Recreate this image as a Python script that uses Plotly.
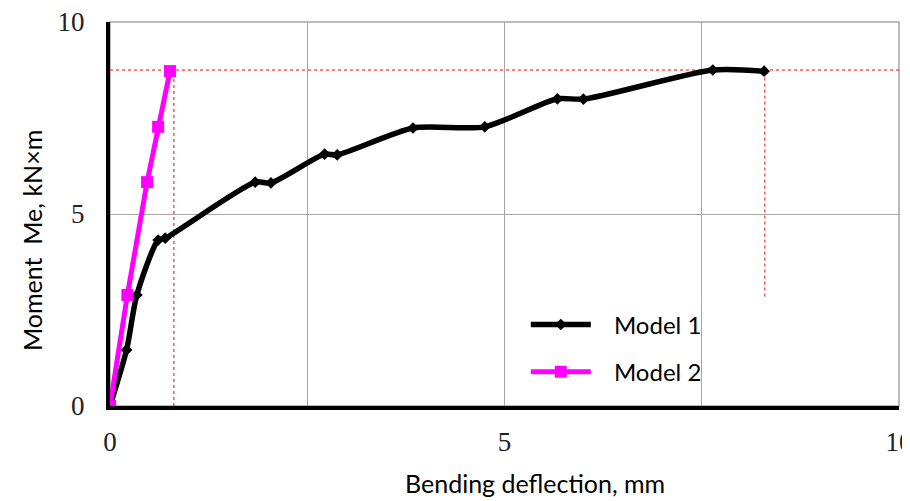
import plotly.graph_objects as go

# Data
m1_x = [0, 0.21, 0.34, 0.61, 0.70, 1.84, 2.04, 2.72, 2.88, 3.84, 4.75, 5.67, 6.00, 7.64, 8.29]
m1_y = [0, 1.46, 2.89, 4.32, 4.37, 5.83, 5.81, 6.56, 6.54, 7.24, 7.27, 8.00, 7.99, 8.75, 8.72]

m2_x = [0, 0.22, 0.47, 0.61, 0.76]
m2_y = [0, 2.89, 5.83, 7.27, 8.72]

# Red dotted reference lines (data units)
ref_level = 8.75
ref_x_left = 0.81
ref_x_right = 8.3
ref_x_right_bottom = 2.85

x_ticks = [0, 5, 10]
y_ticks = [0, 5, 10]

fig = go.Figure()

fig.add_trace(go.Scatter(
    x=m1_x, y=m1_y, name="\u2002\u00a0Model 1", mode="lines+markers",
    line=dict(color="black", width=5.5, shape="spline", smoothing=0.7),
    marker=dict(symbol="diamond", size=9, color="black"),
    legendgroup="a",
))
fig.add_trace(go.Scatter(
    x=m2_x, y=m2_y, name="\u2002\u00a0Model 2", mode="lines+markers",
    line=dict(color="#ff00ff", width=5),
    marker=dict(symbol="square", size=12, color="#ff00ff"),
    legendgroup="b",
))

red = dict(color="red", width=1, dash="dot")
fig.add_shape(type="line", xref="x", yref="y", x0=0, x1=10, y0=ref_level, y1=ref_level, line=red, layer="below")
fig.add_shape(type="line", xref="x", yref="y", x0=ref_x_left, x1=ref_x_left, y0=0, y1=ref_level, line=red, layer="below")
fig.add_shape(type="line", xref="x", yref="y", x0=ref_x_right, x1=ref_x_right, y0=ref_x_right_bottom, y1=ref_level, line=red, layer="below")

# gray frame (top/right)
fig.add_shape(type="rect", xref="paper", yref="paper", x0=0, x1=1, y0=0, y1=1,
              line=dict(color="#a6a6a6", width=1.5), layer="below")

tickfont = dict(family="Liberation Serif", size=27, color="#222222")

fig.update_xaxes(
    range=[0, 10], tickvals=x_ticks, ticktext=[str(v) for v in x_ticks],
    showgrid=True, gridcolor="#a6a6a6", gridwidth=1,
    minor=dict(dtick=2.5, tick0=0, showgrid=True, gridcolor="#a6a6a6", gridwidth=1),
    showline=True, linecolor="black", linewidth=4, zeroline=False,
    ticks="", ticklabelstandoff=9, tickfont=tickfont, ticklabeloverflow="allow",
    automargin=False,
)
fig.update_yaxes(
    range=[0, 10], tickvals=y_ticks, ticktext=[str(v) for v in y_ticks],
    showgrid=True, gridcolor="#a6a6a6", gridwidth=1,
    showline=True, linecolor="black", linewidth=4, zeroline=False,
    ticks="", ticklabelstandoff=16, tickfont=tickfont, ticklabeloverflow="allow",
    automargin=False,
)

titlefont = dict(family="Lato", size=25, color="black")
fig.add_annotation(text="Moment  Me, kN×m", xref="paper", yref="paper",
                   x=-0.099, y=0.432, textangle=-90, showarrow=False,
                   font=titlefont, xanchor="center", yanchor="middle")
fig.add_annotation(text="Bending deflection, mm", xref="paper", yref="paper",
                   x=0.539, y=-0.2, showarrow=False,
                   font=titlefont, xanchor="center", yanchor="middle")

# The page body adds an 8px offset, so the figure is 8px smaller and margins shifted
fig.update_layout(
    width=902, height=493,
    margin=dict(l=102, r=11, t=14, b=95),
    plot_bgcolor="white", paper_bgcolor="white",
    showlegend=True,
    legend=dict(x=0.527, y=0.15, xanchor="left", yanchor="middle",
                font=dict(family="Lato", size=24, color="black"),
                bgcolor="rgba(255,255,255,0)", tracegroupgap=13,
                itemwidth=60),
)

fig.write_html("out.html")
